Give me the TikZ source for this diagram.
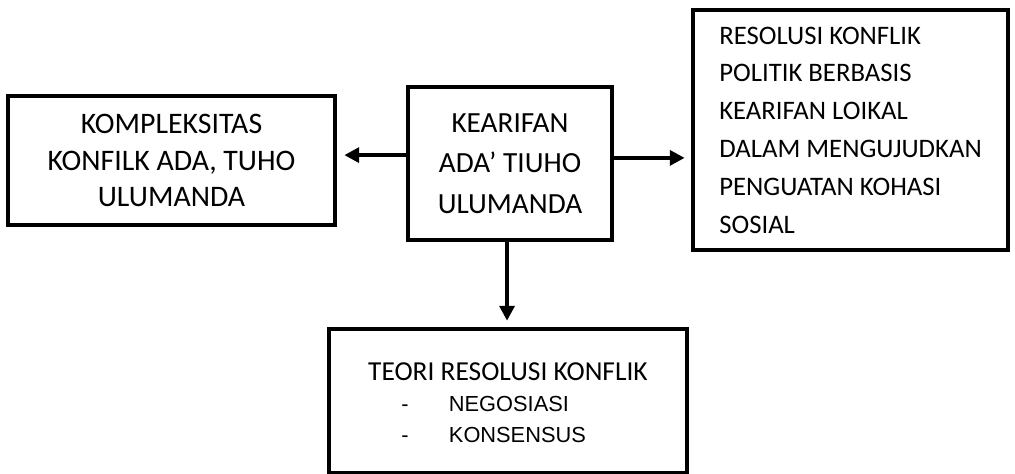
\documentclass[tikz,border=0pt]{standalone}
\usepackage{fontspec}
\setmainfont{Carlito}
\newfontfamily\arialfont{Liberation Sans}
\usetikzlibrary{arrows, arrows.meta}

\tikzset{
  box/.style={draw, line width=3.2pt, inner sep=0pt},
  txt/.style={font=\fontsize{19.5}{26}\selectfont, align=center},
  listtxt/.style={font=\arialfont\fontsize{15.5}{22}\selectfont, anchor=base},
  arr/.style={line width=3.2pt, -{Triangle[length=10.5pt,width=10.5pt]}}
}

\begin{document}
\begin{tikzpicture}[x=0.025cm, y=-0.025cm]
%\draw[step=50,gray,very thin] (0,0) grid (1015,474); %background grid
\useasboundingbox (0,0) rectangle (1015,474);
\node[box, txt, font=\fontsize{21.2}{25.8}\selectfont, minimum width=8.175cm, minimum height=3.225cm] (kompleks) at (171.5,160.5)
  {KOMPLEKSITAS\\KONFILK ADA, TUHO\\ULUMANDA};
\node[box, txt, font=\fontsize{20.8}{29}\selectfont, minimum width=5.1cm, minimum height=3.825cm] (kearifan) at (510,163.5)
  {KEARIFAN\\ADA’ TIUHO\\ULUMANDA};
\node[box, txt, font=\fontsize{19}{26.9}\selectfont, align=left, minimum width=7.875cm, minimum height=6cm] (resolusi) at (850.5,130)
  {RESOLUSI KONFLIK\\POLITIK BERBASIS\\KEARIFAN LOIKAL\\DALAM MENGUJUDKAN\\PENGUATAN KOHASI\\SOSIAL};
\node[box, minimum width=8.95cm, minimum height=3.6cm] (teori) at (508,401) {};
\node[txt] (teorijudul) at (508,372) {TEORI RESOLUSI KONFLIK};
\node[listtxt] (dasha) at (405,411) {-};
\node[listtxt] (dashb) at (405,442) {-};
\node[listtxt, anchor=base west] (negosiasi) at (444,411) {NEGOSIASI};
\node[listtxt, anchor=base west] (konsensus) at (444,442) {KONSENSUS};

\draw[arr] ([yshift=0.21cm]kearifan.west) -- ([yshift=0.21cm, xshift=5pt]kearifan.west -| kompleks.east);
\draw[arr] ([yshift=0.14cm]kearifan.east) -- ([yshift=0.14cm, xshift=-4.3pt]kearifan.east -| resolusi.west);
\draw[arr] ([xshift=-2.1pt]kearifan.south) -- ([xshift=-2.1pt, yshift=4.3pt]kearifan.south |- teori.north);
\end{tikzpicture}
\end{document}
